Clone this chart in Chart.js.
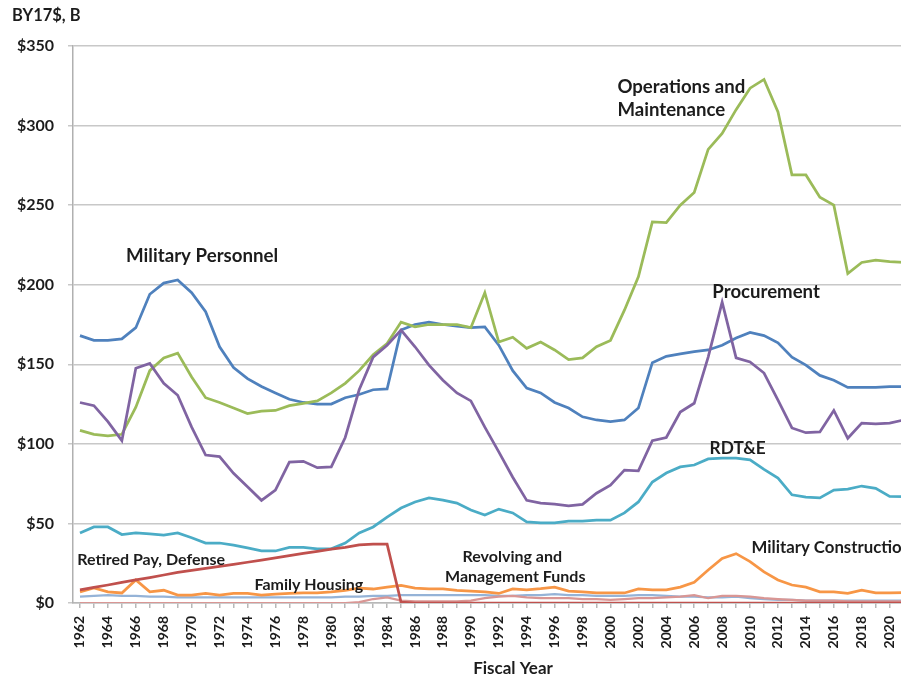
<!DOCTYPE html>
<html>
<head>
<meta charset="utf-8">
<script src="https://cdn.jsdelivr.net/npm/chart.js@4.4.1/dist/chart.umd.min.js"></script>
<style>
html,body{margin:0;padding:0;background:#fff;overflow:hidden;width:901px;height:683px}
#wrap{position:absolute;left:0;top:0;width:930px;height:683px}
</style>
</head>
<body>
<div id="wrap"><canvas id="c"></canvas></div>
<script>
// ---------- DATA (BY17$, billions) ----------
const years = [
  '1962','1963','1964','1965','1966','1967','1968','1969','1970','1971',
  '1972','1973','1974','1975','1976','1977','1978','1979','1980','1981',
  '1982','1983','1984','1985','1986','1987','1988','1989','1990','1991',
  '1992','1993','1994','1995','1996','1997','1998','1999','2000','2001',
  '2002','2003','2004','2005','2006','2007','2008','2009','2010','2011',
  '2012','2013','2014','2015','2016','2017','2018','2019','2020','2021'
];
const xTickLabels = [
  '1962','','1964','','1966','','1968','','1970','',
  '1972','','1974','','1976','','1978','','1980','',
  '1982','','1984','','1986','','1988','','1990','',
  '1992','','1994','','1996','','1998','','2000','',
  '2002','','2004','','2006','','2008','','2010','',
  '2012','','2014','','2016','','2018','','2020',''
];
const yTickValues = [0, 50, 100, 150, 200, 250, 300, 350];

const militaryPersonnel = [
  168, 165, 165, 166, 173, 194, 201, 203, 195, 183,
  161, 148, 141, 136, 132, 128, 126, 125, 125, 129,
  131, 134, 134.5, 171.5, 175, 176.5, 175, 174, 173, 173.5,
  162, 146, 135, 132, 126, 122.5, 117, 115, 114, 115,
  122.5, 151, 155, 156.5, 158, 159, 162, 166.5, 170, 168,
  163.5, 154.5, 149.5, 143, 140, 135.5, 135.5, 135.5, 136, 136
];
const operationsMaintenance = [
  108.5, 106, 105, 106, 123, 146, 154, 157, 142, 129,
  126, 122.5, 119, 120.5, 121, 124, 125.5, 127, 132, 138,
  146, 156, 163, 176.5, 173.5, 175, 175, 175, 173, 195,
  164, 167, 160, 164, 159, 153, 154, 161, 165, 184,
  205, 239.5, 239, 250, 258, 285, 295, 310, 323.5, 329,
  308.5, 269, 269, 255, 250, 207, 214, 215.5, 214.5, 214
];
const procurement = [
  126, 124, 114, 102, 147.5, 150.5, 138, 130.5, 110.5, 93,
  92, 81.5, 73, 64.5, 71, 88.5, 89, 85, 85.5, 104,
  134, 154.5, 162, 171.5, 161, 149.5, 140, 132, 127, 110.5,
  95, 79, 64.5, 62.8, 62.2, 61, 62, 69, 74, 83.5,
  83, 102, 104, 120, 125.5, 154.5, 189, 154, 151.5, 144.5,
  127.5, 110, 107, 107.5, 121, 103.5, 113, 112.5, 113, 115
];
const rdte = [
  44, 47.8, 47.8, 43, 44, 43.5, 42.7, 44, 41, 37.7,
  37.7, 36.4, 34.6, 32.7, 32.7, 35, 35, 34, 34, 37.7,
  44, 47.8, 54, 59.7, 63.5, 66, 64.7, 62.8, 58.4, 55.3,
  59, 56.6, 51, 50.3, 50.3, 51.5, 51.5, 52, 52, 56.6,
  63.5, 76, 81.7, 85.5, 86.7, 90.5, 91, 91, 90, 84,
  78.5, 68, 66.6, 66, 71, 71.6, 73.5, 72, 67, 66.8
];
const militaryConstruction = [
  7, 9.4, 7, 6.3, 14.5, 7, 8, 5, 5, 6,
  5, 6, 6, 5, 5.6, 6, 6.3, 6.3, 7, 8,
  9.4, 8.8, 10, 11, 9.4, 8.8, 8.8, 8, 7.5, 7,
  6, 8.8, 8.2, 9, 10, 7.5, 7, 6.3, 6.3, 6.3,
  8.8, 8.2, 8.2, 10, 13, 20.7, 28, 31, 26, 19.5,
  14.5, 11.3, 10, 7, 7, 6, 8, 6.3, 6.3, 6.5
];
const familyHousing = [
  4, 4.5, 5, 4.5, 4.5, 4, 4, 3.5, 3.5, 3.5,
  3.5, 3.5, 3.5, 3.5, 3.5, 3.5, 3.5, 3.5, 3.5, 4,
  4, 4.5, 4.5, 5, 5, 5, 5, 5, 5, 5,
  4.5, 4.5, 5, 5, 5.5, 5, 5, 4.5, 4.5, 4.5,
  5, 5, 4.5, 4, 4, 3.5, 3.5, 4, 3, 2.5,
  2, 2, 1.5, 1.5, 1.5, 1.5, 1.5, 1.5, 1.5, 1.5
];
const revolvingFunds = [
  0, 0, 0, 0, 0, 0, 0, 0, 0, 0,
  0, 0, 0, 0, 0, 0, 0, 0, 0, 0,
  0.5, 2.5, 3.5, 1.5, 1, 1, 1, 1, 1.5, 3,
  4, 4.5, 3.5, 3, 3, 3, 2.5, 2.5, 2, 2.5,
  3, 3, 3.5, 4, 5, 3, 4.5, 4.5, 4, 3,
  2.5, 2, 1.5, 1.5, 1.5, 1, 1, 1, 1, 1
];
const retiredPay = [
  8.2, 9.8, 11.3, 12.9, 14.5, 16, 17.6, 19.2, 20.5, 21.8,
  23, 24.3, 25.6, 27, 28.4, 29.8, 31.2, 32.5, 33.8, 35,
  36.5, 37, 37, 0.5, 0, 0, 0, 0, 0, 0,
  0, 0, 0, 0, 0, 0, 0, 0, 0, 0,
  0, 0, 0, 0, 0, 0, 0, 0, 0, 0,
  0, 0, 0, 0, 0, 0, 0, 0, 0, 0
];

// Series labels drawn on the chart, anchored in data units (year, $B)
const seriesLabels = [
  {text: 'Operations and', year: 2000.5, value: 324},
  {text: 'Maintenance', year: 2000.5, value: 310},
  {text: 'Military Personnel', year: 1965.3, value: 218},
  {text: 'Procurement', year: 2007.3, value: 195.5},
  {text: 'RDT&E', year: 2007.1, value: 97},
  {text: 'Retired Pay, Defense', year: 1961.8, value: 27},
  {text: 'Revolving and', year: 1989.4, value: 29},
  {text: 'Management Funds', year: 1988.15, value: 16.3},
  {text: 'Family Housing', year: 1974.5, value: 11.3},
  {text: 'Military Construction', year: 2010.1, value: 34.6}
];
// label font sizes (style, kept apart from data)
const labelFontSize = {
  'Operations and': 18.6, 'Maintenance': 18.6, 'Military Personnel': 18.7,
  'Procurement': 18.6, 'RDT&E': 17.3, 'Military Construction': 16.8
};

// ---------- CHART ----------
const FONT = 'Lato, "Liberation Sans", sans-serif';
const TEXT = '#1c1c1c';

const textPlugin = {
  id: 'textPlugin',
  afterDatasetsDraw(chart) {
    const {ctx, scales: {x, y}} = chart;
    ctx.save();
    ctx.fillStyle = TEXT;
    ctx.textBaseline = 'middle';
    ctx.textAlign = 'left';
    for (const a of seriesLabels) {
      ctx.font = 'bold ' + (labelFontSize[a.text] || 16) + 'px ' + FONT;
      ctx.fillText(a.text, x.getPixelForValue(a.year - 1962), y.getPixelForValue(a.value));
    }
    ctx.font = 'bold 16.5px ' + FONT;
    ctx.fillText('BY17$, B', 12, 16);
    ctx.textAlign = 'center';
    ctx.font = 'bold 17px ' + FONT;
    ctx.fillText('Fiscal Year', 513, 669);
    ctx.restore();
  }
};

function ds(label, data, color, w) {
  return {label, data, borderColor: color, backgroundColor: color,
    borderWidth: w || 2.75, pointRadius: 0, tension: 0, fill: false};
}

new Chart(document.getElementById('c'), {
  type: 'line',
  data: {
    labels: years,
    datasets: [
      ds('Retired Pay, Defense', retiredPay, '#c0504d'),
      ds('Military Construction', militaryConstruction, '#f79646'),
      ds('Revolving and Management Funds', revolvingFunds, '#d99694', 2.25),
      ds('Family Housing', familyHousing, '#95b3d7', 2.25),
      ds('RDT&E', rdte, '#4bacc6'),
      ds('Procurement', procurement, '#8064a2'),
      ds('Operations and Maintenance', operationsMaintenance, '#9bbb59'),
      ds('Military Personnel', militaryPersonnel, '#4f81bd')
    ]
  },
  options: {
    responsive: true,
    maintainAspectRatio: false,
    animation: false,
    layout: {padding: {top: 46, left: 0, right: 19.4, bottom: 0}},
    plugins: {legend: {display: false}, tooltip: {enabled: false}},
    scales: {
      x: {
        type: 'category',
        offset: true,
        afterFit: s => { s.height = 80; },
        grid: {display: true, drawOnChartArea: false, drawTicks: true, tickLength: 5, color: '#b8b8b8', lineWidth: 1.5},
        border: {display: true, color: '#b8b8b8', width: 1.5},
        ticks: {
          autoSkip: false, maxRotation: 90, minRotation: 90, padding: 8,
          color: TEXT, font: {family: FONT, size: 14, weight: 'bold'},
          callback: (v, i) => xTickLabels[i]
        }
      },
      y: {
        min: 0, max: 350,
        afterFit: s => { s.width = 73; },
        afterBuildTicks: s => { s.ticks = yTickValues.map(v => ({value: v})); },
        grid: {color: '#c8c8c8', lineWidth: 1.5, tickLength: 5},
        border: {display: true, color: '#b0b0b0', width: 1.5},
        ticks: {
          padding: 14, color: TEXT, font: {family: FONT, size: 16, weight: 'bold'},
          callback: v => '$' + v
        }
      }
    }
  },
  plugins: [textPlugin]
});
</script>
</body>
</html>
